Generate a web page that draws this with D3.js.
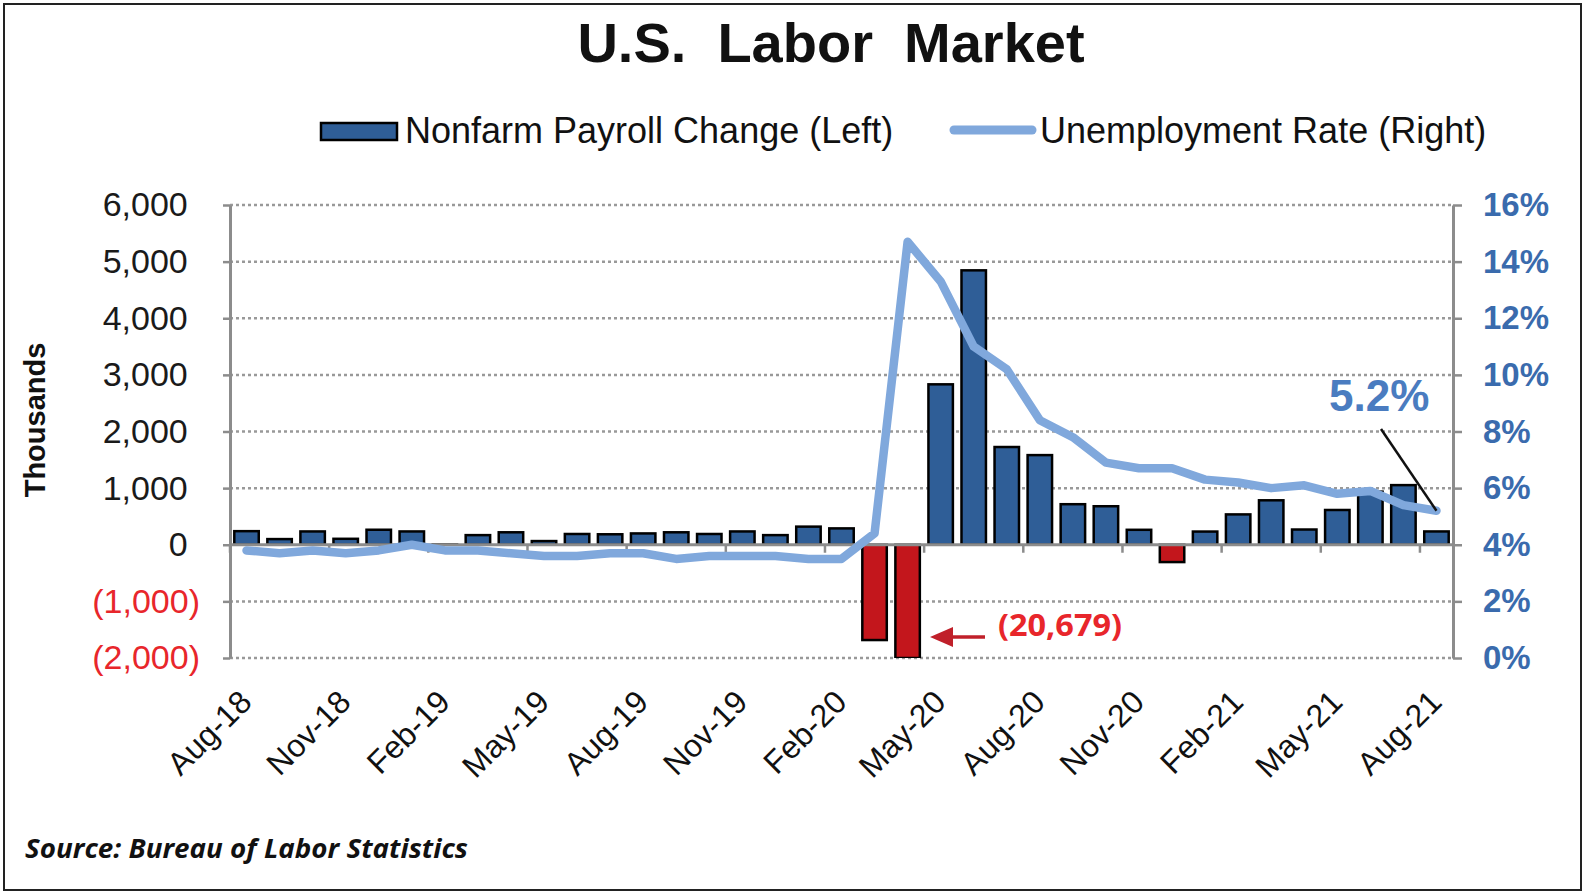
<!DOCTYPE html>
<html>
<head>
<meta charset="utf-8">
<script src="https://cdn.jsdelivr.net/npm/d3@7"></script>
<style>
  body { margin: 0; background: #fff; }
  svg { display: block; font-family: Arial, "Liberation Sans", sans-serif; }
</style>
</head>
<body>
<svg width="1585" height="893"></svg>
<script>
// monthly data, Aug-18 .. Aug-21
const months = [
  "Aug-18", "Sep-18", "Oct-18", "Nov-18", "Dec-18", "Jan-19", "Feb-19", "Mar-19", "Apr-19", "May-19",
  "Jun-19", "Jul-19", "Aug-19", "Sep-19", "Oct-19", "Nov-19", "Dec-19", "Jan-20", "Feb-20", "Mar-20",
  "Apr-20", "May-20", "Jun-20", "Jul-20", "Aug-20", "Sep-20", "Oct-20", "Nov-20", "Dec-20", "Jan-21",
  "Feb-21", "Mar-21", "Apr-21", "May-21", "Jun-21", "Jul-21", "Aug-21"
];
// nonfarm payroll change, thousands
const payroll = [
  240, 100, 235, 105, 265, 235, 5, 170, 220, 65,
  190, 185, 200, 220, 190, 235, 170, 320, 289, -1683,
  -20679, 2833, 4846, 1726, 1583, 716, 680, 264, -306, 233,
  536, 785, 269, 614, 938, 1053, 235
];
// unemployment rate, %
const unemployment = [
  3.8, 3.7, 3.8, 3.7, 3.8, 4.0, 3.8, 3.8, 3.7, 3.6,
  3.6, 3.7, 3.7, 3.5, 3.6, 3.6, 3.6, 3.5, 3.5, 4.4,
  14.7, 13.3, 11.0, 10.2, 8.4, 7.8, 6.9, 6.7, 6.7, 6.3,
  6.2, 6.0, 6.1, 5.8, 5.9, 5.4, 5.2
];
const leftTicks = [-2000, -1000, 0, 1000, 2000, 3000, 4000, 5000, 6000];
const rightTicks = [0, 2, 4, 6, 8, 10, 12, 14, 16];

const svg = d3.select("svg");
const largura = parseFloat(svg.attr("width"));
const altura = parseFloat(svg.attr("height"));

const plotEsq = 230, plotDir = 1453, plotTopo = 205, plotBase = 658;
const azulBarra = "#2f5e97";
const vermelhoBarra = "#c3161c";
const azulLinha = "#80a8dc";
const cinzaEixo = "#8c8c8c";

const x = d3.scaleBand()
    .domain(months)
    .range([plotEsq, plotDir])
    .paddingInner(0.26)
    .paddingOuter(0.13);
const yLeft = d3.scaleLinear().domain([-2000, 6000]).range([plotBase, plotTopo]).clamp(true);
const yRight = d3.scaleLinear().domain([0, 16]).range([plotBase, plotTopo]);
const centro = m => x(m) + x.bandwidth() / 2;

// frame
svg.append("rect")
    .attr("x", 4).attr("y", 4)
    .attr("width", largura - 8).attr("height", altura - 7)
    .attr("fill", "none")
    .attr("stroke", "#222")
    .attr("stroke-width", 2);

// title
svg.append("text")
    .attr("x", 831).attr("y", 62)
    .attr("text-anchor", "middle")
    .style("white-space", "pre")
    .attr("font-size", 56)
    .attr("font-weight", "bold")
    .attr("fill", "#111")
    .text("U.S.  Labor  Market");

// legend
svg.append("rect")
    .attr("x", 321).attr("y", 123)
    .attr("width", 76).attr("height", 17)
    .attr("fill", azulBarra)
    .attr("stroke", "#000")
    .attr("stroke-width", 2.5);
svg.append("text")
    .attr("x", 405).attr("y", 143)
    .attr("font-size", 36)
    .attr("fill", "#111")
    .text("Nonfarm Payroll Change (Left)");
svg.append("line")
    .attr("x1", 954).attr("x2", 1032)
    .attr("y1", 130).attr("y2", 130)
    .attr("stroke", azulLinha)
    .attr("stroke-width", 9)
    .attr("stroke-linecap", "round");
svg.append("text")
    .attr("x", 1040).attr("y", 143)
    .attr("font-size", 36)
    .attr("fill", "#111")
    .text("Unemployment Rate (Right)");

// dotted gridlines
svg.append("g")
    .selectAll("line")
    .data(leftTicks.filter(d => d !== 0))
    .join("line")
        .attr("x1", plotEsq).attr("x2", plotDir)
        .attr("y1", d => yLeft(d)).attr("y2", d => yLeft(d))
        .attr("stroke", "#999")
        .attr("stroke-width", 2.5)
        .attr("stroke-dasharray", "3,3");

// left axis
const fmt = d3.format(",");
const eixoEsq = svg.append("g")
    .attr("transform", `translate(${plotEsq},0)`)
    .call(d3.axisLeft(yLeft).tickValues(leftTicks).tickSize(7).tickSizeOuter(0).tickPadding(23)
        .tickFormat(d => d < 0 ? `(${fmt(-d)})` : fmt(d)));
eixoEsq.select(".domain").attr("stroke", cinzaEixo).attr("stroke-width", 3);
eixoEsq.selectAll(".tick line").attr("stroke", cinzaEixo).attr("stroke-width", 2.5);
eixoEsq.selectAll(".tick text")
    .attr("font-size", 34)
    .attr("font-family", "Arial, 'Liberation Sans', sans-serif")
    .attr("fill", d => d < 0 ? "#e8262b" : "#1a1a1a")
    .attr("dx", d => d < 0 ? 0 : "-0.36em");

// right axis
const eixoDir = svg.append("g")
    .attr("transform", `translate(${plotDir},0)`)
    .call(d3.axisRight(yRight).tickValues(rightTicks).tickSize(9).tickSizeOuter(0).tickPadding(21)
        .tickFormat(d => d + "%"));
eixoDir.select(".domain").attr("stroke", cinzaEixo).attr("stroke-width", 3);
eixoDir.selectAll(".tick line").attr("stroke", cinzaEixo).attr("stroke-width", 2.5);
eixoDir.selectAll(".tick text")
    .attr("font-size", 33)
    .attr("font-weight", "bold")
    .attr("font-family", "Arial, 'Liberation Sans', sans-serif")
    .attr("fill", "#3a6bad");

// y axis title
svg.append("text")
    .attr("transform", "translate(45,420) rotate(-90)")
    .attr("text-anchor", "middle")
    .attr("font-size", 29)
    .attr("font-weight", "bold")
    .attr("fill", "#111")
    .text("Thousands");

// bars, clipped to the plot area
svg.append("clipPath").attr("id", "area")
    .append("rect")
        .attr("x", plotEsq).attr("y", plotTopo)
        .attr("width", plotDir - plotEsq).attr("height", plotBase - plotTopo);

svg.append("g")
    .attr("clip-path", "url(#area)")
    .selectAll("rect")
    .data(months)
    .join("rect")
        .attr("x", m => x(m))
        .attr("width", x.bandwidth())
        .attr("y", (m, i) => yLeft(Math.max(0, payroll[i])))
        .attr("height", (m, i) => Math.abs(yLeft(payroll[i]) - yLeft(0)))
        .attr("fill", (m, i) => payroll[i] < 0 ? vermelhoBarra : azulBarra)
        .attr("stroke", "#000")
        .attr("stroke-width", 2.5);

// zero line and category ticks every 3 months
svg.append("line")
    .attr("x1", plotEsq).attr("x2", plotDir)
    .attr("y1", yLeft(0)).attr("y2", yLeft(0))
    .attr("stroke", cinzaEixo)
    .attr("stroke-width", 3);

const rotulos = months.filter((m, i) => i % 3 === 0);
const folga = (x.step() - x.bandwidth()) / 2;

svg.append("g")
    .selectAll("line")
    .data(rotulos)
    .join("line")
        .attr("x1", m => x(m) - folga).attr("x2", m => x(m) - folga)
        .attr("y1", yLeft(0)).attr("y2", yLeft(0) + 8)
        .attr("stroke", cinzaEixo)
        .attr("stroke-width", 2.5);

svg.append("g")
    .selectAll("text")
    .data(rotulos)
    .join("text")
        .attr("transform", m => `translate(${centro(m) + 7},704) rotate(-45)`)
        .attr("text-anchor", "end")
        .attr("font-size", 32)
        .attr("fill", "#111")
        .text(m => m);

// unemployment line
const linha = d3.line()
    .x((d, i) => centro(months[i]))
    .y(d => yRight(d));

svg.append("path")
    .datum(unemployment)
    .attr("d", linha)
    .attr("fill", "none")
    .attr("stroke", azulLinha)
    .attr("stroke-width", 8.5)
    .attr("stroke-linejoin", "round")
    .attr("stroke-linecap", "round");

// 5.2% callout
const ultimo = unemployment.length - 1;
svg.append("line")
    .attr("x1", 1381).attr("y1", 429)
    .attr("x2", centro(months[ultimo])).attr("y2", yRight(unemployment[ultimo]))
    .attr("stroke", "#111")
    .attr("stroke-width", 2.5);
svg.append("text")
    .attr("x", 1329).attr("y", 411)
    .attr("font-size", 44)
    .attr("font-weight", "bold")
    .attr("fill", "#4a7cc0")
    .text(unemployment[ultimo].toFixed(1) + "%");

// April 2020 callout (bar is cut off by the axis)
const abril = months.indexOf("Apr-20");
const setaY = 637;
svg.append("line")
    .attr("x1", 985).attr("x2", 948)
    .attr("y1", setaY).attr("y2", setaY)
    .attr("stroke", "#c0202a")
    .attr("stroke-width", 3.5);
svg.append("path")
    .attr("d", `M930,${setaY} L953,${setaY - 10} L953,${setaY + 10} Z`)
    .attr("fill", "#c0202a");
svg.append("text")
    .attr("x", 998).attr("y", 636)
    .attr("font-family", "'Open Sans', sans-serif")
    .attr("font-size", 31)
    .attr("font-weight", "bold")
    .attr("fill", "#e8262b")
    .attr("textLength", 124)
    .attr("lengthAdjust", "spacingAndGlyphs")
    .text(`(${fmt(-payroll[abril])})`);

// source
svg.append("text")
    .attr("x", 25).attr("y", 858)
    .attr("font-family", "'Open Sans', sans-serif")
    .attr("font-size", 27)
    .attr("font-weight", "bold")
    .attr("font-style", "italic")
    .attr("fill", "#111")
    .attr("textLength", 443)
    .attr("lengthAdjust", "spacingAndGlyphs")
    .text("Source: Bureau of Labor Statistics");
</script>
</body>
</html>
